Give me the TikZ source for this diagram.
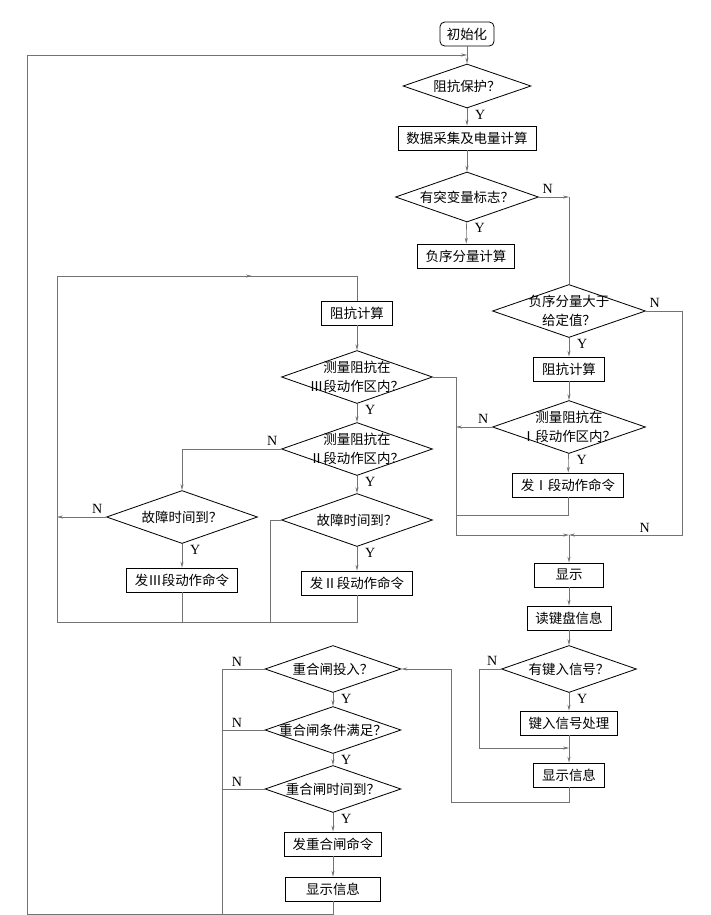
\documentclass[tikz,border=0pt]{standalone}
\usepackage{fontspec}
\setmainfont{Liberation Serif}
\newfontfamily\cjk{Noto Sans CJK SC}
\usetikzlibrary{shapes.geometric,arrows.meta,decorations.markings}

\tikzset{
  proc/.style={draw, line width=0.7pt, minimum width=2.07cm, minimum height=0.72cm,
    inner xsep=0.25cm, font=\cjk\fontsize{11.5}{13}\selectfont},
  terminal/.style={proc, rounded corners=4pt, minimum width=1.62cm, inner xsep=0.15cm},
  decision/.style={diamond, draw, line width=0.7pt, inner sep=0pt,
    minimum width=4.53cm, minimum height=1.59cm},
  every label/.style={font=\cjk\fontsize{11.5}{16}\selectfont, align=center, inner sep=0pt},
  conn/.style={draw=black!55, line width=0.5pt},
  flow/.style={conn, -{Stealth[length=5pt,width=2.6pt]}},
  midarrow/.style={postaction={decorate}, decoration={markings,
    mark=at position #1 with {\arrow{Stealth[length=5pt,width=2.6pt]}}}},
  ylab/.style={at start, anchor=north west, inner sep=1pt, xshift=0.2cm, font=\fontsize{12}{12}\selectfont},
  nlabE/.style={at start, anchor=south west, inner sep=1pt, xshift=2pt, yshift=2pt, font=\fontsize{12}{12}\selectfont},
  nlabW/.style={at start, anchor=south east, inner sep=1pt, xshift=-2pt, yshift=2pt, font=\fontsize{12}{12}\selectfont},
  nlab/.style={above, inner sep=2pt, font=\fontsize{12}{12}\selectfont}
}

\begin{document}
\begin{tikzpicture}[x=0.03cm, y=-0.03cm]
  \useasboundingbox (0,0) rectangle (711,915);

  % 主流程
  \node[terminal] (init) at (467,34) {初始化};
  \node[decision, minimum width=3.84cm, minimum height=1.32cm, label=center:{阻抗保护？}] (prot) at (467,86) {};
  \node[proc] (calc) at (467,138) {数据采集及电量计算};
  \node[decision, minimum width=4.29cm, minimum height=1.5cm, label=center:{有突变量标志？}] (jump) at (467,197) {};
  \node[proc] (negcalc) at (466,256) {负序分量计算};

  % I段
  \node[decision, minimum width=4.59cm, label=center:{负序分量大于\\给定值？}] (negcmp) at (569,311) {};
  \node[proc] (zcalcA) at (569,369) {阻抗计算};
  \node[decision, minimum width=4.59cm, label=center:{测量阻抗在\\Ⅰ段动作区内？}] (zoneA) at (569,427) {};
  \node[proc] (tripA) at (568,485) {发Ⅰ段动作命令};

  % II段, III段
  \node[proc] (zcalcB) at (357,313) {阻抗计算};
  \node[decision, label=center:{测量阻抗在\\Ⅲ段动作区内？}] (zoneC) at (357,377) {};
  \node[decision, label=center:{测量阻抗在\\Ⅱ段动作区内？}] (zoneB) at (357,449) {};
  \node[decision, label=center:{故障时间到？}] (timeC) at (182,517) {};
  \node[decision, label=center:{故障时间到？}] (timeB) at (357,520) {};
  \node[proc] (tripC) at (182,580) {发Ⅲ段动作命令};
  \node[proc] (tripB) at (357,583) {发Ⅱ段动作命令};

  % 显示与键盘
  \node[proc] (disp) at (569,575) {显示};
  \node[proc] (readkey) at (569,618) {读键盘信息};
  \node[decision, minimum width=4.05cm, minimum height=1.41cm, label=center:{有键入信号？}] (keyq) at (569,669) {};
  \node[proc] (keyproc) at (569,723) {键入信号处理};
  \node[proc] (dispinfo) at (569,775) {显示信息};

  % 重合闸
  \node[decision, minimum width=4.08cm, minimum height=1.41cm, label=center:{重合闸投入？}] (recon) at (333,669) {};
  \node[decision, minimum width=4.08cm, minimum height=1.41cm, label=center:{重合闸条件满足？}] (reccond) at (333,730) {};
  \node[decision, minimum width=4.08cm, minimum height=1.41cm, label=center:{重合闸时间到？}] (rectime) at (333,789) {};
  \node[proc, minimum width=2.85cm] (reccmd) at (333,844) {发重合闸命令};
  \node[proc, minimum width=2.85cm] (recdisp) at (333,889) {显示信息};

  % 拐点
  \coordinate (loopL) at (27,55);
  \coordinate (loopB) at (27,914);
  \coordinate (join) at (569,535);
  \coordinate (rgt) at (682,535);
  \coordinate (mid) at (456,535);
  \coordinate (mergeA) at (456,515);
  \coordinate (lt) at (57,276);
  \coordinate (lb) at (57,622);
  \coordinate (tb) at (270,622);
  \coordinate (keyjoin) at (569,748);
  \coordinate (keyleft) at (479,748);
  \coordinate (recR) at (451,802);
  \coordinate (rl) at (222,914);

  % 连线
  \draw[flow] (init) -- (prot);
  \draw[flow] (recdisp.south) |- (loopB) -- (loopL) -- (loopL -| prot.north);
  \draw[flow] (prot) -- node[ylab]{Y} (calc);
  \draw[flow] (calc) -- (jump);
  \draw[flow] (jump) -- node[ylab]{Y} (negcalc);
  \draw[flow] (jump.east) -- node[nlabE]{N} (jump.east -| negcmp.north);
  \draw[conn] (jump.east -| negcmp.north) -- (negcmp.north);

  \draw[flow] (negcmp.east) -- node[nlabE]{N} (negcmp.east -| rgt) -- (rgt) -- node[nlab, pos=0.33]{N} (join);
  \draw[flow] (negcmp) -- node[ylab]{Y} (zcalcA);
  \draw[flow] (zcalcA) -- (zoneA);
  \draw[flow] (zoneA.west) -- node[nlabW]{N} (zoneA.west -| mid);
  \draw[flow] (zoneA) -- node[ylab]{Y} (tripA);
  \draw[conn] (tripA.south) |- (mergeA);
  \draw[flow] (zoneC.east) -| (mid) -- (join);

  \draw[conn] (lb) -- (lt);
  \draw[conn, midarrow=0.6] (lt) -- (lt -| zcalcB) -- (zcalcB);
  \draw[flow] (zcalcB) -- (zoneC);
  \draw[flow] (zoneC) -- node[ylab]{Y} (zoneB);
  \draw[flow] (zoneB.west) -| node[nlabW]{N} (timeC.north);
  \draw[flow] (zoneB) -- node[ylab]{Y} (timeB);
  \draw[flow] (timeC.west) -- node[nlabW]{N} (timeC.west -| lt);
  \draw[flow] (timeC) -- node[ylab]{Y} (tripC);
  \draw[flow] (timeB) -- node[ylab]{Y} (tripB);
  \draw[conn] (tripB.south) |- (lb);
  \draw[conn] (tripC.south) -- (tripC.south |- lb);
  \draw[conn] (timeB.west) -| (tb);

  \draw[flow] (join) -- (disp);
  \draw[flow] (disp) -- (readkey);
  \draw[flow] (readkey) -- (keyq);
  \draw[flow] (keyq) -- node[ylab]{Y} (keyproc);
  \draw[flow] (keyq.west) -| node[nlabW]{N} (keyleft) -- (keyjoin);
  \draw[flow] (keyproc) -- (dispinfo);
  \draw[flow] (dispinfo.south) |- (recR) |- (recon.east);

  \draw[flow] (recon) -- node[ylab]{Y} (reccond);
  \draw[flow] (reccond) -- node[ylab]{Y} (rectime);
  \draw[flow] (rectime) -- node[ylab]{Y} (reccmd);
  \draw[flow] (reccmd) -- (recdisp);
  \draw[conn] (recon.west) -- node[nlab, pos=0.65]{N} (recon.west -| rl) -- (rl);
  \draw[conn] (reccond.west) -- node[nlab, pos=0.65]{N} (reccond.west -| rl);
  \draw[conn] (rectime.west) -- node[nlab, pos=0.65]{N} (rectime.west -| rl);
\end{tikzpicture}
\end{document}
